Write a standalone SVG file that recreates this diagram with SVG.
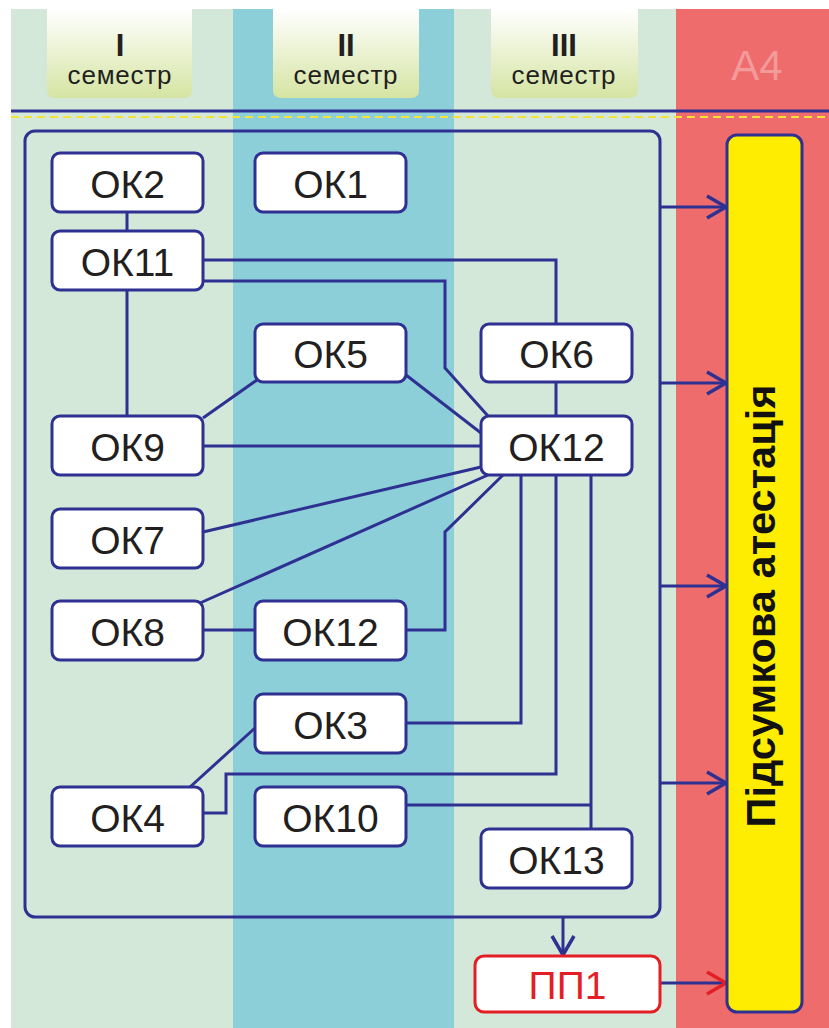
<svg xmlns="http://www.w3.org/2000/svg" width="829" height="1028" viewBox="0 0 829 1028">
<defs>
<linearGradient id="hdr" x1="0" y1="0" x2="0" y2="1">
<stop offset="0" stop-color="#ffffff"/>
<stop offset="1" stop-color="#d5e4a2"/>
</linearGradient>
<marker id="ah" markerUnits="userSpaceOnUse" markerWidth="26" markerHeight="28" refX="21" refY="13" orient="auto">
<path d="M2,2 L21,13 L2,24" fill="none" stroke="#2e3192" stroke-width="3.5"/>
</marker>
<marker id="ahr" markerUnits="userSpaceOnUse" markerWidth="26" markerHeight="28" refX="21" refY="13" orient="auto">
<path d="M2,2 L21,13 L2,24" fill="none" stroke="#e31e24" stroke-width="3.5"/>
</marker>
</defs>
<style>
.node rect{fill:#ffffff;stroke:#2e3192;stroke-width:3}
.node text{font-family:"Liberation Sans",Arial,sans-serif;font-size:39px;fill:#231f20;text-anchor:middle}
.hdr text{font-family:"Liberation Sans",Arial,sans-serif;fill:#231f20;text-anchor:middle}
.hdr .num{font-size:31px;font-weight:bold}
.hdr .sem{font-size:26px;letter-spacing:0.8px}
.conn path{fill:none;stroke:#2e3192;stroke-width:3}
</style>
<rect x="0" y="0" width="829" height="1028" fill="#ffffff"/>
<rect x="11" y="9" width="222" height="1019" fill="#d4e8da"/>
<rect x="233" y="9" width="221" height="1019" fill="#8ccfd9"/>
<rect x="454" y="9" width="222" height="1019" fill="#d4e8da"/>
<rect x="676" y="9" width="153" height="1019" fill="#ee6c6c"/>
<text x="757" y="80" font-family="'Liberation Sans',Arial,sans-serif" font-size="42" fill="#f39a9a" text-anchor="middle">A4</text>
<g class="hdr" id="sem1">
<path d="M47,9 H192 V90 Q192,98 184,98 H55 Q47,98 47,90 Z" fill="url(#hdr)"/>
<text class="num" x="120" y="56">I</text>
<text class="sem" x="120" y="84">семестр</text>
</g>
<g class="hdr" id="sem2">
<path d="M273,9 H419 V90 Q419,98 411,98 H281 Q273,98 273,90 Z" fill="url(#hdr)"/>
<text class="num" x="346" y="56">II</text>
<text class="sem" x="346" y="84">семестр</text>
</g>
<g class="hdr" id="sem3">
<path d="M491,9 H638 V90 Q638,98 630,98 H499 Q491,98 491,90 Z" fill="url(#hdr)"/>
<text class="num" x="564" y="56">III</text>
<text class="sem" x="564" y="84">семестр</text>
</g>
<line x1="11" y1="111" x2="829" y2="111" stroke="#2e3192" stroke-width="3"/>
<line x1="11" y1="117" x2="829" y2="117" stroke="#f2e23a" stroke-width="2" stroke-dasharray="8 5"/>
<g id="frame">
<rect x="25" y="131" width="635" height="786" rx="10" fill="none" stroke="#2e3192" stroke-width="3"/>
</g>
<g class="conn" id="connectors">
<path d="M127,212 V231"/>
<path d="M203,260 H556 V324"/>
<path d="M203,281 H445 V368 L488,416"/>
<path d="M127,290 V416"/>
<path d="M257,380 L203,418"/>
<path d="M406,375 L481,433"/>
<path d="M203,446 H481"/>
<path d="M556,382 V416"/>
<path d="M481,467 L203,532"/>
<path d="M488,475 L200,603"/>
<path d="M503,475 L445,532 V630 H406"/>
<path d="M203,630 H255"/>
<path d="M521,475 V723 H406"/>
<path d="M556,475 V774 H226 V813 H203"/>
<path d="M591,475 V829"/>
<path d="M406,805 H591"/>
<path d="M255,728 L190,787"/>
<path d="M660,207 H726" marker-end="url(#ah)"/>
<path d="M660,383 H726" marker-end="url(#ah)"/>
<path d="M660,586 H726" marker-end="url(#ah)"/>
<path d="M660,783 H726" marker-end="url(#ah)"/>
<path d="M563,917 V955" marker-end="url(#ah)"/>
<path d="M660,983 H726" stroke="#e31e24" marker-end="url(#ahr)"/>
</g>
<g class="node" id="ok2"><rect x="52" y="153" width="151" height="59" rx="8"/><text x="127.5" y="198">ОК2</text></g>
<g class="node" id="ok1"><rect x="255" y="153" width="151" height="59" rx="8"/><text x="330.5" y="198">ОК1</text></g>
<g class="node" id="ok11"><rect x="52" y="231" width="151" height="59" rx="8"/><text x="127.5" y="276">ОК11</text></g>
<g class="node" id="ok5"><rect x="255" y="324" width="151" height="58" rx="8"/><text x="330.5" y="368">ОК5</text></g>
<g class="node" id="ok6"><rect x="481" y="324" width="151" height="58" rx="8"/><text x="556.5" y="368">ОК6</text></g>
<g class="node" id="ok9"><rect x="52" y="416" width="151" height="59" rx="8"/><text x="127.5" y="461">ОК9</text></g>
<g class="node" id="ok12"><rect x="481" y="416" width="151" height="59" rx="8"/><text x="556.5" y="461">ОК12</text></g>
<g class="node" id="ok7"><rect x="52" y="509" width="151" height="59" rx="8"/><text x="127.5" y="554">ОК7</text></g>
<g class="node" id="ok8"><rect x="52" y="601" width="151" height="59" rx="8"/><text x="127.5" y="646">ОК8</text></g>
<g class="node" id="ok12b"><rect x="255" y="601" width="151" height="59" rx="8"/><text x="330.5" y="646">ОК12</text></g>
<g class="node" id="ok3"><rect x="255" y="694" width="151" height="59" rx="8"/><text x="330.5" y="739">ОК3</text></g>
<g class="node" id="ok4"><rect x="52" y="787" width="151" height="59" rx="8"/><text x="127.5" y="832">ОК4</text></g>
<g class="node" id="ok10"><rect x="255" y="787" width="151" height="59" rx="8"/><text x="330.5" y="832">ОК10</text></g>
<g class="node" id="ok13"><rect x="481" y="829" width="151" height="59" rx="8"/><text x="556.5" y="874">ОК13</text></g>
<g class="node" id="pp1"><rect x="475" y="956" width="185" height="56" rx="9" style="stroke:#e31e24"/><text x="567.5" y="999" style="fill:#e31e24">ПП1</text></g>
<g id="attest">
<rect x="727" y="135" width="75" height="877" rx="10" fill="#ffed00" stroke="#2e3192" stroke-width="3"/>
<text transform="translate(775,606) rotate(-90)" font-family="'Liberation Sans',Arial,sans-serif" font-size="41" font-weight="bold" fill="#111111" text-anchor="middle" textLength="443" lengthAdjust="spacingAndGlyphs">Підсумкова атестація</text>
</g>
</svg>
